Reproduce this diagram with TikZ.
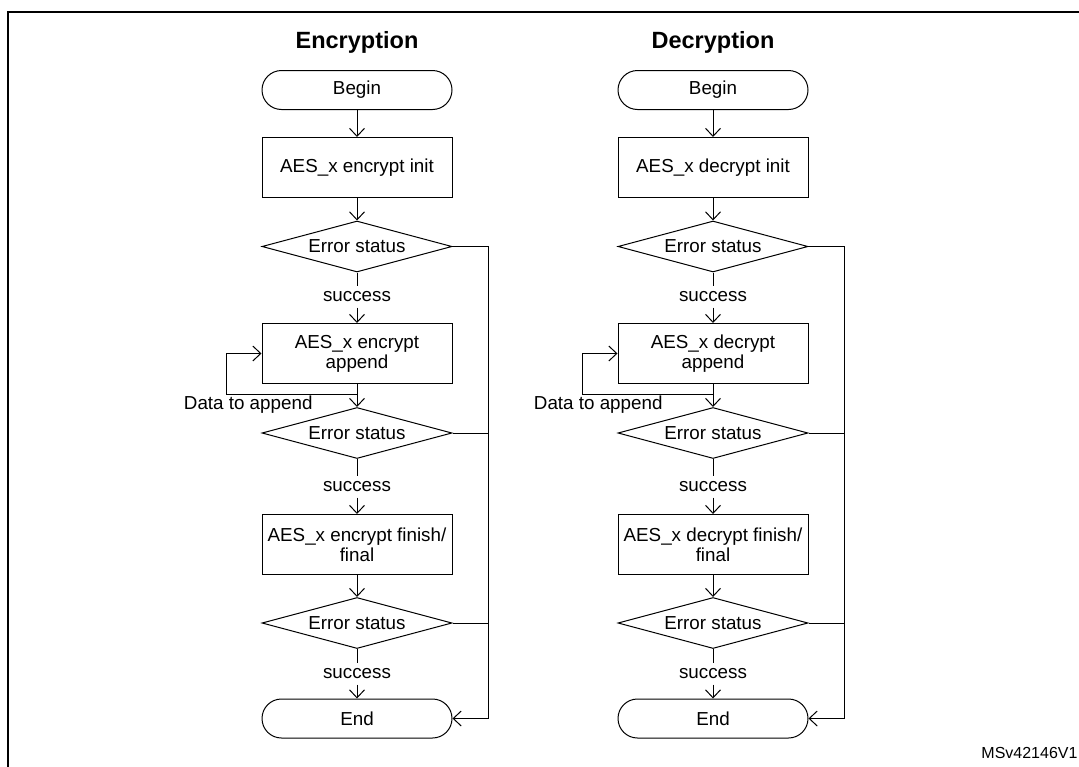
\documentclass[tikz,border=0pt]{standalone}
\usepackage{fontspec}
\setmainfont{Liberation Sans}
\usetikzlibrary{shapes.geometric,arrows.meta}
\newcommand{\bodyfont}{\fontsize{18.8}{20}\selectfont}
\newcommand{\headfont}{\fontsize{23.5}{28}\selectfont\bfseries}

\begin{document}
\begin{tikzpicture}[x=1pt,y=-1pt,line width=1pt,
    arr/.style={-{Straight Barb[length=8pt,width=15pt,line width=1pt]}},
    term/.style={draw,rounded corners=19.5pt,minimum width=190pt,minimum height=39pt,inner sep=0pt,font=\bodyfont},
    proc/.style={draw,minimum width=190pt,minimum height=60pt,align=center,inner sep=0pt,font=\bodyfont},
    test/.style={draw,diamond,aspect=3.7,minimum width=190pt,minimum height=51pt,inner sep=0pt,font=\bodyfont},
    lbl/.style={inner sep=5pt,font=\bodyfont}]

      \useasboundingbox (0,0) rectangle (1079,766);
      \draw[line width=2pt] (7.5,780) -- (7.5,12) -- (1090,12);

      % encryption
      \node[font=\headfont] (e-title) at (357,42) {Encryption};
      \node[term] (e-begin) at (357,90) {Begin};
      \node[proc] (e-init) at (357,167.5) {AES\_x encrypt init};
      \node[test] (e-err1) at (357,246.5) {Error status};
      \node[lbl] (e-ok1) at (357,297) {success};
      \node[proc] (e-app) at (357,353.5) {AES\_x encrypt\\append};
      \node[lbl,anchor=east] (e-data) at (318,405) {Data to append};
      \node[test] (e-err2) at (357,433) {Error status};
      \node[lbl] (e-ok2) at (357,487) {success};
      \node[proc] (e-fin) at (357,544.5) {AES\_x encrypt finish/\\final};
      \node[test] (e-err3) at (357,623) {Error status};
      \node[lbl] (e-ok3) at (357,674) {success};
      \node[term] (e-end) at (357,718.5) {End};
      \coordinate (e-loop) at (357,394);
      \coordinate (e-loopl) at (226,394);
      \coordinate (e-fail) at (488,718.5);

      \draw[arr] (e-begin) -- (e-init);
      \draw[arr] (e-init) -- (e-err1);
      \draw (e-err1) -- (e-ok1);
      \draw[arr] (e-ok1) -- (e-app);
      \draw (e-app) -- (e-loop) -- (e-loopl);
      \draw[arr] (e-loopl) |- (e-app.west);
      \draw[arr] (e-loop) -- (e-err2);
      \draw (e-err2) -- (e-ok2);
      \draw[arr] (e-ok2) -- (e-fin);
      \draw[arr] (e-fin) -- (e-err3);
      \draw (e-err3) -- (e-ok3);
      \draw[arr] (e-ok3) -- (e-end);
      \draw (e-err1.east) -| (e-fail);
      \draw (e-err2.east) -- (e-err2.east -| e-fail);
      \draw (e-err3.east) -- (e-err3.east -| e-fail);
      \draw[arr] (e-fail) -- (e-end.east);

      % decryption
      \node[font=\headfont] (d-title) at (713,42) {Decryption};
      \node[term] (d-begin) at (713,90) {Begin};
      \node[proc] (d-init) at (713,167.5) {AES\_x decrypt init};
      \node[test] (d-err1) at (713,246.5) {Error status};
      \node[lbl] (d-ok1) at (713,297) {success};
      \node[proc] (d-app) at (713,353.5) {AES\_x decrypt\\append};
      \node[lbl,anchor=east] (d-data) at (668,405) {Data to append};
      \node[test] (d-err2) at (713,433) {Error status};
      \node[lbl] (d-ok2) at (713,487) {success};
      \node[proc] (d-fin) at (713,544.5) {AES\_x decrypt finish/\\final};
      \node[test] (d-err3) at (713,623) {Error status};
      \node[lbl] (d-ok3) at (713,674) {success};
      \node[term] (d-end) at (713,718.5) {End};
      \coordinate (d-loop) at (713,394);
      \coordinate (d-loopl) at (582,394);
      \coordinate (d-fail) at (844,718.5);

      \draw[arr] (d-begin) -- (d-init);
      \draw[arr] (d-init) -- (d-err1);
      \draw (d-err1) -- (d-ok1);
      \draw[arr] (d-ok1) -- (d-app);
      \draw (d-app) -- (d-loop) -- (d-loopl);
      \draw[arr] (d-loopl) |- (d-app.west);
      \draw[arr] (d-loop) -- (d-err2);
      \draw (d-err2) -- (d-ok2);
      \draw[arr] (d-ok2) -- (d-fin);
      \draw[arr] (d-fin) -- (d-err3);
      \draw (d-err3) -- (d-ok3);
      \draw[arr] (d-ok3) -- (d-end);
      \draw (d-err1.east) -| (d-fail);
      \draw (d-err2.east) -- (d-err2.east -| d-fail);
      \draw (d-err3.east) -- (d-err3.east -| d-fail);
      \draw[arr] (d-fail) -- (d-end.east);

      \node[font=\fontsize{16}{18}\selectfont,anchor=east,inner sep=0pt] (msv) at (1078,753) {MSv42146V1};
    \end{tikzpicture}
\end{document}
